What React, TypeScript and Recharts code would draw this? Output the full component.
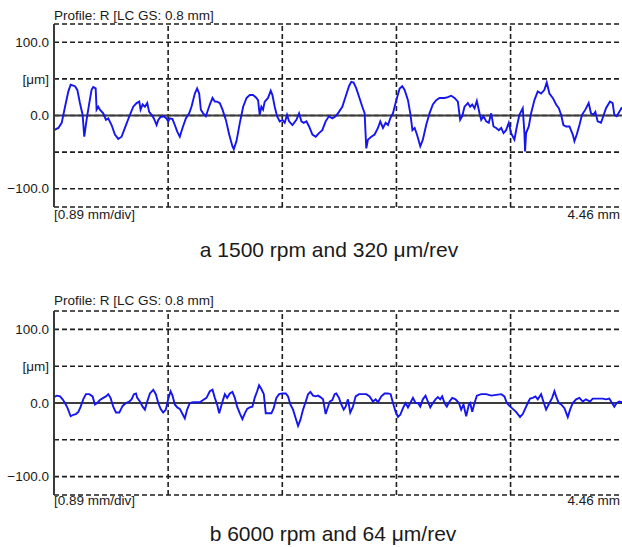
import { LineChart, Line, XAxis, YAxis, CartesianGrid, ReferenceLine } from "recharts";

// roughness profiles, x in mm, height in µm
const profileAX = [
  0, 0.034, 0.06, 0.086, 0.112, 0.13, 0.164, 0.182, 0.202, 0.223, 0.236, 0.254, 0.275, 0.293, 0.306, 0.325,
  0.332, 0.345, 0.358, 0.384, 0.405, 0.423, 0.449, 0.475, 0.501, 0.527, 0.553, 0.592, 0.618, 0.644, 0.665,
  0.675, 0.691, 0.709, 0.727, 0.742, 0.761, 0.779, 0.8, 0.813, 0.831, 0.857, 0.877, 0.89, 0.903, 0.924, 0.942,
  0.961, 0.981, 1.002, 1.028, 1.054, 1.072, 1.098, 1.116, 1.132, 1.145, 1.163, 1.184, 1.215, 1.236, 1.254,
  1.272, 1.293, 1.314, 1.34, 1.366, 1.391, 1.402, 1.423, 1.449, 1.475, 1.501, 1.526, 1.552, 1.573, 1.591,
  1.604, 1.617, 1.63, 1.643, 1.669, 1.69, 1.703, 1.721, 1.739, 1.76, 1.781, 1.799, 1.817, 1.833, 1.859, 1.89,
  1.911, 1.929, 1.947, 1.968, 1.989, 2.015, 2.041, 2.066, 2.092, 2.118, 2.144, 2.17, 2.196, 2.222, 2.248,
  2.274, 2.3, 2.318, 2.336, 2.357, 2.378, 2.404, 2.422, 2.435, 2.448, 2.474, 2.5, 2.526, 2.544, 2.565, 2.586,
  2.604, 2.622, 2.643, 2.669, 2.695, 2.715, 2.734, 2.76, 2.778, 2.795, 2.812, 2.83, 2.856, 2.876, 2.902,
  2.928, 2.954, 2.98, 3.006, 3.045, 3.071, 3.097, 3.123, 3.149, 3.167, 3.183, 3.201, 3.227, 3.245, 3.261,
  3.279, 3.297, 3.318, 3.331, 3.349, 3.37, 3.39, 3.409, 3.427, 3.448, 3.468, 3.487, 3.505, 3.525, 3.546,
  3.564, 3.59, 3.609, 3.629, 3.655, 3.668, 3.673, 3.681, 3.702, 3.72, 3.746, 3.772, 3.798, 3.824, 3.842,
  3.863, 3.889, 3.915, 3.936, 3.954, 3.972, 3.993, 4.019, 4.045, 4.058, 4.076, 4.097, 4.117, 4.143, 4.169,
  4.187, 4.206, 4.221, 4.239, 4.265, 4.283, 4.304, 4.335, 4.356, 4.369, 4.387, 4.408, 4.424, 4.44,
];
const profileAY = [
  -20, -17, -10, 12, 33, 42, 40, 35, 17, 1, -29, -6, 17, 35, 39, 37,
  8, 12, 8, 3, -6, -4, -13, -26, -32, -29, -17, 1, 12, 17, 19,
  8, 15, 12, 17, 5, 1, -4, -13, -6, -2, -1, -4, -8, -4, -5, -13,
  -22, -29, -17, -4, 3, 12, 30, 37, 30, 8, 3, -1, 15, 24, 19,
  19, 17, 8, -6, -26, -42, -46, -35, -10, 12, 24, 28, 28, 25, 21,
  1, 12, 8, 19, 24, 34, 28, 12, -1, -8, -6, -10, 1, -8, -13, -6,
  3, -8, -10, -8, -15, -26, -29, -24, -20, -8, -1, -4, -1, 5, 12,
  26, 40, 46, 45, 37, 26, 12, 3, -45, -33, -29, -26, -17, -8, -17, -10,
  -13, -4, 3, 21, 37, 40, 35, 21, 3, -20, -17, -26, -42, -33, -13,
  3, 15, 21, 24, 24, 25, 27, 24, 19, -6, -1, 12, 17, 12, 15,
  10, 20, 3, -6, -1, -8, -10, 3, -15, -17, -20, -17, -24, -20, -10,
  -24, -33, -15, 1, 10, -24, -49, -24, -15, 3, 21, 33, 30, 35, 45,
  30, 24, 15, 10, 1, -13, -15, -15, -26, -35, -26, -13, 1, 8, 17,
  3, 1, 5, -8, -10, -1, 10, 19, 17, 1, -1, 5, 10, 8,
];

const profileBX = [
  0, 0.021, 0.047, 0.067, 0.086, 0.106, 0.13, 0.151, 0.171, 0.19, 0.208, 0.228, 0.249, 0.275, 0.301, 0.319,
  0.337, 0.358, 0.384, 0.405, 0.423, 0.441, 0.462, 0.483, 0.509, 0.535, 0.561, 0.587, 0.605, 0.623, 0.639,
  0.649, 0.67, 0.691, 0.709, 0.727, 0.748, 0.774, 0.794, 0.813, 0.831, 0.851, 0.872, 0.89, 0.909, 0.924,
  0.942, 0.961, 0.981, 1.002, 1.02, 1.038, 1.059, 1.085, 1.111, 1.137, 1.163, 1.189, 1.215, 1.236, 1.254,
  1.272, 1.288, 1.314, 1.332, 1.35, 1.371, 1.391, 1.41, 1.428, 1.449, 1.469, 1.488, 1.506, 1.526, 1.547,
  1.565, 1.584, 1.599, 1.617, 1.636, 1.651, 1.669, 1.695, 1.713, 1.734, 1.755, 1.781, 1.807, 1.825, 1.843,
  1.864, 1.885, 1.903, 1.921, 1.942, 1.963, 1.981, 1.999, 2.02, 2.041, 2.059, 2.077, 2.098, 2.118, 2.137,
  2.15, 2.17, 2.188, 2.201, 2.222, 2.24, 2.259, 2.274, 2.292, 2.31, 2.331, 2.352, 2.378, 2.409, 2.435,
  2.461, 2.487, 2.508, 2.526, 2.552, 2.578, 2.604, 2.625, 2.643, 2.664, 2.682, 2.7, 2.721, 2.741, 2.76,
  2.778, 2.799, 2.819, 2.838, 2.856, 2.876, 2.897, 2.915, 2.934, 2.954, 2.975, 2.993, 3.011, 3.027, 3.045,
  3.063, 3.084, 3.105, 3.131, 3.157, 3.175, 3.193, 3.214, 3.235, 3.245, 3.261, 3.279, 3.297, 3.331, 3.37,
  3.409, 3.448, 3.487, 3.512, 3.531, 3.551, 3.577, 3.603, 3.634, 3.655, 3.676, 3.694, 3.712, 3.733, 3.754,
  3.772, 3.798, 3.816, 3.837, 3.863, 3.884, 3.902, 3.915, 3.936, 3.954, 3.98, 4.006, 4.024, 4.045, 4.071,
  4.097, 4.123, 4.148, 4.18, 4.2, 4.239, 4.278, 4.304, 4.33, 4.351, 4.369, 4.387, 4.408, 4.424, 4.44,
];
const profileBY = [
  8, 10, 9, 5, 0, -7, -18, -16, -15, -12, -5, 5, 12, 12, 9, -2,
  0, 4, 7, 9, 12, 7, -5, -13, -13, -4, 0, 2, 5, 12, 13,
  7, 2, -5, -9, 2, 13, 18, 12, 0, -8, -13, -9, 5, 16, 10,
  -2, -6, -8, -15, -21, -9, 0, 1, 1, 1, 4, 7, 16, 18, 7,
  -2, -14, 2, 12, 7, 13, 15, 7, -5, -14, -22, -14, -8, -6, -5,
  7, 16, 24, 19, 12, -14, -14, -14, -7, 7, 12, 13, 13, 9, -2,
  -9, -21, -31, -23, -9, 2, 12, 15, 10, 9, 10, 8, 5, -15, -5,
  2, 4, 12, 13, 7, -2, -9, -5, 5, -13, -5, 9, 12, 12, 12,
  9, 2, 5, 1, 9, 13, 13, 12, 0, -12, -19, -16, -7, 0, -6,
  0, 7, 0, 0, -5, 5, 10, 2, -6, 0, 5, 8, 5, 9, 0,
  -5, 2, 7, 5, 0, -9, -2, -18, -2, 0, -12, 0, 10, 12, 12,
  10, 11, 12, 9, 0, -4, -8, -12, -19, -15, -7, 0, 6, 7, 9,
  5, 12, 2, -9, 0, 7, 16, 9, 0, -2, -7, -19, -9, 0, 5,
  7, 2, 5, 2, 6, 6, 6, 5, 6, 0, -5, 0, 2, 1, 2,
];

const yTicks = [-100, -50, 0, 50, 100];
const yTickLabels = ["\u2212100.0", "", "0.0", "[\u03bcm]", "100.0"];
const xDivs = [0.89, 1.78, 2.67, 3.56];
const xLength = 4.46;
const captions = ["a 1500 rpm and 320 \u03bcm/rev", "b 6000 rpm and 64 \u03bcm/rev"];

const FONT = '"Liberation Sans", Arial, Helvetica, sans-serif';

function ProfileChart({ xs, ys, plotHeight }: { xs: number[]; ys: number[]; plotHeight: number }) {
  const data = xs.map((x, i) => ({ x, y: ys[i] }));
  return (
    <LineChart
      width={626}
      height={plotHeight + 27}
      data={data}
      margin={{ top: 24, right: 0, bottom: 3, left: 0 }}
    >
      <CartesianGrid vertical={false} stroke="#1e1e1e" strokeWidth={1.6} strokeDasharray="5 3" />
      <XAxis type="number" dataKey="x" domain={[0, xLength]} hide />
      <YAxis
        type="number"
        domain={[-125, 125]}
        ticks={yTicks}
        interval={0}
        width={54}
        tickLine={false}
        tickSize={3}
        tickMargin={2}
        axisLine={{ stroke: "#3a3a3a", strokeWidth: 2 }}
        tick={{ fill: "#1a1a1a", fontSize: 13.5, fontFamily: FONT }}
        tickFormatter={(v: number) => yTickLabels[yTicks.indexOf(v)] ?? ""}
      />
      {xDivs.map((d) => (
        <ReferenceLine key={d} x={d} stroke="#1e1e1e" strokeWidth={1.6} strokeDasharray="5 3" />
      ))}
      <ReferenceLine y={0} stroke="#3c3c3c" strokeWidth={2.2} />
      <Line
        type="linear"
        dataKey="y"
        stroke="#1515f0"
        strokeWidth={1.9}
        dot={false}
        isAnimationActive={false}
      />
    </LineChart>
  );
}

export default function App() {
  const txt = { fontFamily: FONT, fill: "#1a1a1a" };
  return (
    <div
      style={{
        position: "absolute",
        left: 0,
        top: 0,
        width: 622,
        height: 547,
        overflow: "hidden",
        background: "#fff",
      }}
    >
      <div style={{ position: "absolute", left: 0, top: 0 }}>
        <ProfileChart xs={profileAX} ys={profileAY} plotHeight={183} />
      </div>
      <div style={{ position: "absolute", left: 0, top: 287 }}>
        <ProfileChart xs={profileBX} ys={profileBY} plotHeight={184} />
      </div>
      <svg
        width={622}
        height={547}
        style={{ position: "absolute", left: 0, top: 0, pointerEvents: "none" }}
      >
        <text x={54} y={20} fontSize={13.5} {...txt}>Profile: R [LC GS: 0.8 mm]</text>
        <text x={54} y={219} fontSize={13.5} {...txt}>[0.89 mm/div]</text>
        <text x={620} y={219} fontSize={13.5} textAnchor="end" {...txt}>4.46 mm</text>
        <text x={329} y={257} fontSize={21} textAnchor="middle" {...txt}>{captions[0]}</text>

        <text x={54} y={305} fontSize={13.5} {...txt}>Profile: R [LC GS: 0.8 mm]</text>
        <text x={54} y={505} fontSize={13.5} {...txt}>[0.89 mm/div]</text>
        <text x={620} y={505} fontSize={13.5} textAnchor="end" {...txt}>4.46 mm</text>
        <text x={333} y={541} fontSize={21} textAnchor="middle" {...txt}>{captions[1]}</text>
      </svg>
    </div>
  );
}
